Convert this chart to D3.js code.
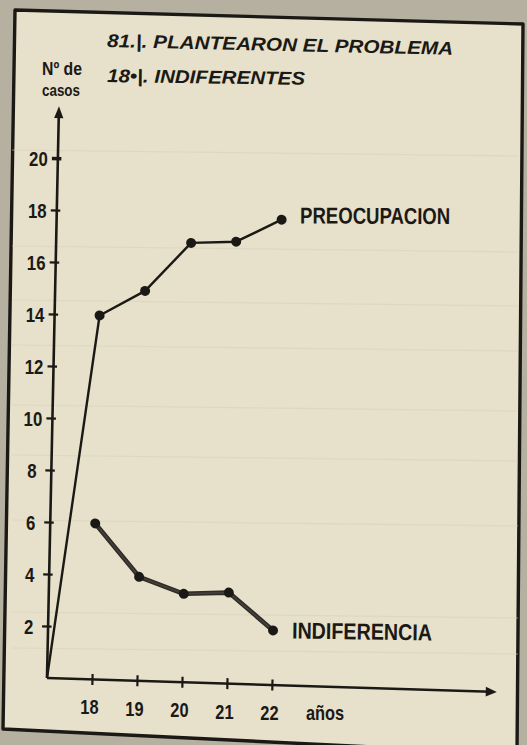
<!DOCTYPE html>
<html>
<head>
<meta charset="utf-8">
<script src="https://cdn.jsdelivr.net/npm/d3@7"></script>
<style>
  html, body { margin: 0; padding: 0; background: #b6b0a1; }
  svg { display: block; }
</style>
</head>
<body>
<svg id="chart" width="527" height="745"></svg>
<script>
// ---- data ----
const years = [18, 19, 20, 21, 22];
const preocupacion = [14, 15, 16.9, 17, 17.9];
const indiferencia = [6, 4, 3.4, 3.5, 2.1];
const yTickValues = [2, 4, 6, 8, 10, 12, 14, 16, 18, 20];
const titleLines = ["81.|. PLANTEARON EL PROBLEMA", "18•|. INDIFERENTES"];
const seriesNames = ["PREOCUPACION", "INDIFERENCIA"];
const yAxisTitle = ["Nº de", "casos"];
const xAxisUnit = "años";

// ---- style ----
const ink = "#1b1915";
const paper = "#e7e0ca";
const backing = "#b6b0a1";
const sans = "'Liberation Sans', Arial, Helvetica, sans-serif";
const narrow = 0.82;

const svg = d3.select("#chart");

// card background and its hand-cut frame
svg.append("rect").attr("width", 527).attr("height", 745).attr("fill", backing);
svg.append("path")
  .attr("d", "M15,10 L523,24 L517,754 L3,729 Z")
  .attr("fill", paper)
  .attr("stroke", ink)
  .attr("stroke-width", 3.4)
  .attr("stroke-linejoin", "round");

// faint ruling on the paper
const ruling = [150, 246, 300, 345, 405, 455, 520, 612, 648];
svg.append("g").selectAll("line").data(ruling).join("line")
  .attr("x1", 12).attr("x2", 518)
  .attr("y1", d => d).attr("y2", d => d + 6)
  .attr("stroke", "#d8d1bc").attr("stroke-width", 1.2).attr("opacity", 0.55);

// ---- hand-drawn axes: slightly skewed plotting plane ----
const alpha = 1.78 * Math.PI / 180;   // tilt of the horizontal axis
const beta = 1.2 * Math.PI / 180;     // lean of the vertical axis
const m = { a: Math.cos(alpha), b: Math.sin(alpha), c: -Math.sin(beta), d: Math.cos(beta) };
const det = m.a * m.d - m.b * m.c;
const inv = `matrix(${m.d / det},${-m.b / det},${-m.c / det},${m.a / det},0,0)`;

const plot = svg.append("g")
  .attr("transform", `matrix(${m.a},${m.b},${m.c},${m.d},47,678)`);

const x = d3.scaleLinear().domain([17, 27]).range([0, 450]);
const y = d3.scaleLinear().domain([0, 22]).range([0, -572]);

// axis lines with arrowheads
plot.append("line")
  .attr("x1", x(17)).attr("y1", 0).attr("x2", x(27) - 6).attr("y2", 0)
  .attr("stroke", ink).attr("stroke-width", 2.6);
plot.append("path")
  .attr("d", `M${x(27)},0 L${x(27) - 11},-4.8 L${x(27) - 11},4.8 Z`)
  .attr("fill", ink);
plot.append("line")
  .attr("x1", 0).attr("y1", y(0)).attr("x2", 0).attr("y2", y(22) + 6)
  .attr("stroke", ink).attr("stroke-width", 2.6);
plot.append("path")
  .attr("d", `M0,${y(22)} L-4.6,${y(22) + 12} L4.6,${y(22) + 12} Z`)
  .attr("fill", ink);

// x axis ticks and year labels
const gx = plot.append("g")
  .call(d3.axisBottom(x).tickValues(years).tickSize(0).tickFormat(d3.format("d")));
gx.select(".domain").remove();
gx.selectAll(".tick line")
  .attr("y1", -5.5).attr("y2", 5.5)
  .attr("stroke", ink).attr("stroke-width", 2.2);
gx.selectAll(".tick text")
  .attr("dy", null)
  .attr("transform", `${inv} scale(${narrow},1)`)
  .attr("x", -3 / narrow).attr("y", 35)
  .attr("fill", ink)
  .attr("font-family", sans).attr("font-weight", "bold").attr("font-size", 20)
  .attr("text-anchor", "middle");

plot.append("text")
  .attr("transform", `translate(${x(22)},0) ${inv} scale(${narrow},1)`)
  .attr("x", 34 / narrow).attr("y", 35)
  .attr("fill", ink)
  .attr("font-family", sans).attr("font-weight", "bold").attr("font-size", 20)
  .text(xAxisUnit);

// y axis ticks and labels
const gy = plot.append("g")
  .call(d3.axisLeft(y).tickValues(yTickValues).tickSize(0).tickFormat(d3.format("d")));
gy.select(".domain").remove();
gy.selectAll(".tick line")
  .attr("x1", -6).attr("x2", 3.5)
  .attr("stroke", ink).attr("stroke-width", d => d === 20 ? 3.4 : 2.2);
gy.selectAll(".tick text")
  .attr("dy", null)
  .attr("transform", `${inv} scale(${narrow},1)`)
  .attr("x", -19.5 / narrow).attr("y", 7)
  .attr("fill", ink)
  .attr("font-family", sans).attr("font-weight", "bold").attr("font-size", 20.5)
  .attr("text-anchor", "middle");

// ---- series ----
const line = d3.line().x(d => x(d[0])).y(d => y(d[1]));
const preoPts = years.map((yr, i) => [yr, preocupacion[i]]);
const indiPts = years.map((yr, i) => [yr, indiferencia[i]]);

// the concern curve rises straight out of the origin
plot.append("path")
  .datum([[x.domain()[0], y.domain()[0]], ...preoPts])
  .attr("d", line)
  .attr("fill", "none").attr("stroke", ink)
  .attr("stroke-width", 2.4).attr("stroke-linejoin", "round");

plot.append("path")
  .datum(indiPts)
  .attr("d", line)
  .attr("fill", "none").attr("stroke", "#2f2b27")
  .attr("stroke-width", 4.6).attr("stroke-linejoin", "round").attr("stroke-linecap", "round");
plot.append("path")
  .datum(indiPts)
  .attr("d", line)
  .attr("fill", "none").attr("stroke", "#5a544c")
  .attr("stroke-width", 1.4).attr("opacity", 0.6);

plot.append("g").selectAll("circle").data(preoPts).join("circle")
  .attr("cx", d => x(d[0])).attr("cy", d => y(d[1])).attr("r", 5)
  .attr("fill", ink);
plot.append("g").selectAll("circle").data(indiPts).join("circle")
  .attr("cx", d => x(d[0])).attr("cy", d => y(d[1])).attr("r", 5)
  .attr("fill", ink);

// series names beside the last point of each curve
const seriesLabel = [
  { name: seriesNames[0], pt: preoPts[preoPts.length - 1], dx: 18.5, dy: 3.6, len: 150, tilt: 0.3 },
  { name: seriesNames[1], pt: indiPts[indiPts.length - 1], dx: 19, dy: 7.8, len: 140, tilt: 0.8 }
];
seriesLabel.forEach(s => {
  plot.append("text")
    .attr("transform", `translate(${x(s.pt[0])},${y(s.pt[1])}) ${inv} rotate(${s.tilt})`)
    .attr("x", s.dx).attr("y", s.dy)
    .attr("fill", ink)
    .attr("font-family", sans).attr("font-weight", "bold").attr("font-size", 23)
    .attr("textLength", s.len).attr("lengthAdjust", "spacingAndGlyphs")
    .text(s.name);
});

// ---- headings ----
const titleSpec = [
  { x: 107, y: 47, len: 346, tilt: 1.3 },
  { x: 107, y: 82, len: 198, tilt: 0.8 }
];
titleLines.forEach((t, i) => {
  const p = titleSpec[i];
  svg.append("text")
    .attr("transform", `rotate(${p.tilt},${p.x},${p.y})`)
    .attr("x", p.x).attr("y", p.y)
    .attr("fill", ink)
    .attr("font-family", sans).attr("font-weight", "bold").attr("font-style", "italic")
    .attr("font-size", 18.5)
    .attr("textLength", p.len).attr("lengthAdjust", "spacingAndGlyphs")
    .text(t);
});

const yTitleSpec = [
  { x: 42, y: 75, len: 40, size: 17.5 },
  { x: 42, y: 96, len: 38, size: 17 }
];
yAxisTitle.forEach((t, i) => {
  const p = yTitleSpec[i];
  svg.append("text")
    .attr("x", p.x).attr("y", p.y)
    .attr("fill", ink)
    .attr("font-family", sans).attr("font-weight", "bold")
    .attr("font-size", p.size)
    .attr("textLength", p.len).attr("lengthAdjust", "spacingAndGlyphs")
    .text(t);
});
</script>
</body>
</html>
